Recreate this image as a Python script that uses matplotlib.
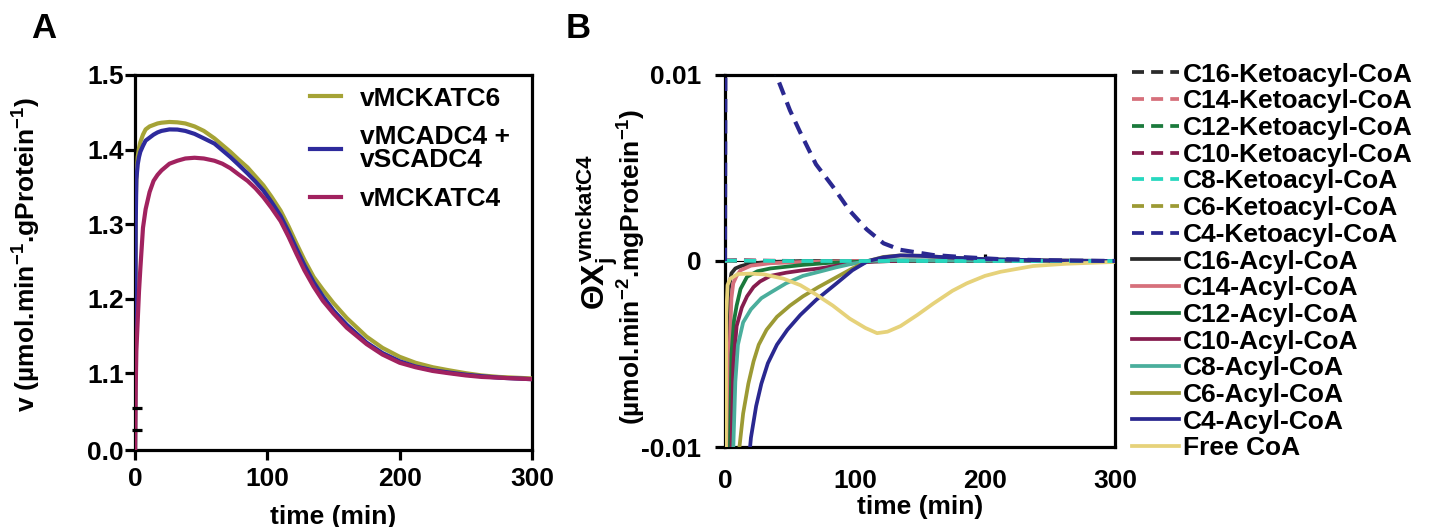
import numpy as np
import matplotlib
matplotlib.use('Agg')
import matplotlib.pyplot as plt
from matplotlib.lines import Line2D

plt.rcParams['font.family'] = ['Liberation Sans', 'DejaVu Sans']
plt.rcParams['font.weight'] = 'bold'
plt.rcParams['axes.labelweight'] = 'bold'
plt.rcParams['mathtext.fontset'] = 'custom'
plt.rcParams['mathtext.rm'] = 'Liberation Sans:bold'
plt.rcParams['mathtext.it'] = 'Liberation Sans:bold'
plt.rcParams['mathtext.bf'] = 'Liberation Sans:bold'
plt.rcParams['mathtext.sf'] = 'Liberation Sans:bold'

# ---------------- Panel A data ----------------
t_a = [0, 0.5, 1, 2, 3, 4, 6, 8, 11, 14, 17, 20, 26, 32, 38, 45, 52, 60, 66, 72, 78,
       85, 91, 97, 103, 110, 116, 122, 128, 135, 142, 150, 160, 175, 187, 200, 212,
       225, 237, 250, 262, 275, 287, 300]
v_mckatc6 = [0.0, 1.33, 1.36, 1.39, 1.402, 1.41, 1.42, 1.427, 1.431, 1.433, 1.435,
             1.436, 1.437, 1.4365, 1.435, 1.431, 1.425, 1.415, 1.406, 1.397, 1.387,
             1.376, 1.364, 1.352, 1.337, 1.318, 1.297, 1.274, 1.252, 1.229, 1.212,
             1.194, 1.174, 1.149, 1.134, 1.122, 1.114, 1.108, 1.104, 1.100, 1.097,
             1.095, 1.094, 1.093]
v_mcadc4_scadc4 = [0.0, 1.30, 1.36, 1.38, 1.39, 1.397, 1.405, 1.412, 1.416, 1.420,
                   1.423, 1.425, 1.427, 1.4268, 1.425, 1.421, 1.415, 1.408, 1.399,
                   1.390, 1.380, 1.368, 1.357, 1.345, 1.330, 1.311, 1.290, 1.267,
                   1.245, 1.222, 1.203, 1.184, 1.165, 1.141, 1.127, 1.116, 1.109,
                   1.104, 1.101, 1.098, 1.096, 1.094, 1.093, 1.092]
v_mckatc4 = [0.0, 1.08, 1.13, 1.17, 1.21, 1.24, 1.295, 1.32, 1.343, 1.358, 1.366,
             1.372, 1.381, 1.385, 1.388, 1.389, 1.388, 1.385, 1.381, 1.375, 1.367,
             1.358, 1.348, 1.336, 1.322, 1.304, 1.283, 1.260, 1.238, 1.216, 1.197,
             1.180, 1.161, 1.139, 1.125, 1.114, 1.108, 1.103, 1.100, 1.097, 1.095,
             1.094, 1.093, 1.092]
labels_a = ['vMCKATC6', 'vMCADC4 +\nvSCADC4', 'vMCKATC4']
colors_a = ['#a5a336', '#2e2a9c', '#a1225f']
yticks_a = [0.0, 1.1, 1.2, 1.3, 1.4, 1.5]
xticks = [0, 100, 200, 300]

# ---------------- Panel B data ----------------
t_c4keto = [0, 1, 10, 25, 40, 50, 58, 70, 83, 96, 109, 122, 135, 160, 185, 211, 240, 270, 300]
y_c4keto = [0.0, 0.03, 0.025, 0.016, 0.0099, 0.0081, 0.0069, 0.0052, 0.0040, 0.0027,
            0.0017, 0.00095, 0.0006, 0.00032, 0.0002, 0.0001, 0.00005, 0.00002, 0.0]
t_keto_small = [0, 2, 10, 20, 30, 45, 60, 100, 300]
y_c16keto = [0.0, 0.0, 0.0, 0.0, 0.0, 0.0, 0.0, 0.0, 0.0]
y_c14keto = [0.0, 0.0, 0.00003, 0.00002, 0.00001, 0.0, 0.0, 0.0, 0.0]
y_c12keto = [0.0, 0.0, 0.00002, 0.00001, 0.0, 0.0, 0.0, 0.0, 0.0]
y_c10keto = [0.0, 0.00004, 0.00004, 0.00003, 0.00002, 0.00001, 0.0, 0.0, 0.0]
y_c8keto = [0.0, 0.00002, 0.00002, 0.00001, 0.00001, 0.0, 0.0, 0.0, 0.0]
y_c6keto = [0.0, 0.00001, 0.00001, 0.00001, 0.0, 0.0, 0.0, 0.0, 0.0]

t_c16acyl = [0, 0.8, 1.3, 2, 3, 5, 8, 12, 20, 35, 60, 300]
y_c16acyl = [-0.05, -0.02, -0.0101, -0.004, -0.0015, -0.00066, -0.0004, -0.00028,
             -0.00013, -0.00005, 0.0, 0.0]
t_c14acyl = [0, 1.5, 2.6, 3.5, 5, 6.4, 9, 12, 20, 35, 60, 100, 300]
y_c14acyl = [-0.05, -0.02, -0.0101, -0.005, -0.002, -0.0012, -0.0008, -0.0005,
             -0.00025, -0.00012, -0.00005, 0.0, 0.0]
t_c12acyl = [0, 2.5, 3.8, 5, 7, 9, 12, 17, 25, 35, 60, 80, 100, 130, 300]
y_c12acyl = [-0.05, -0.02, -0.0101, -0.005, -0.0032, -0.0024, -0.0015, -0.00085,
             -0.00055, -0.0004, -0.00021, -0.0001, -0.00005, 0.0, 0.0]
t_c10acyl = [0, 3, 5, 6.5, 9, 13, 17, 22, 27, 35, 47, 60, 73, 86, 99, 115, 140, 300]
y_c10acyl = [-0.05, -0.02, -0.0101, -0.0055, -0.0035, -0.0025, -0.0019, -0.0014,
             -0.0011, -0.0008, -0.00063, -0.0005, -0.0004, -0.00025, -0.00012,
             -0.00003, 0.00002, 0.0]
t_c8acyl = [0, 4, 6.4, 8, 10, 14, 20, 28, 35, 47, 60, 73, 85, 99, 111, 130, 160, 300]
y_c8acyl = [-0.05, -0.02, -0.0101, -0.0065, -0.0045, -0.0033, -0.0026, -0.0020,
            -0.0017, -0.0012, -0.0008, -0.00057, -0.00035, -0.00013, 0.0, 0.00005,
            0.00003, 0.0]
t_c6acyl = [0, 8, 11, 14, 18, 22, 26, 32, 40, 50, 60, 72, 85, 98, 110, 122, 135,
            150, 175, 200, 250, 300]
y_c6acyl = [-0.05, -0.02, -0.0101, -0.0082, -0.0066, -0.0054, -0.0045, -0.0037,
            -0.0030, -0.0024, -0.0019, -0.0014, -0.0009, -0.0004, 0.0, 0.00022,
            0.0003, 0.00028, 0.00018, 0.0001, 0.00003, 0.0]
t_c4acyl = [0, 10, 18, 20, 24, 28, 33, 40, 48, 58, 70, 85, 98, 110, 122, 135, 150,
            175, 200, 250, 300]
y_c4acyl = [-0.05, -0.03, -0.011, -0.0095, -0.0078, -0.0066, -0.0055, -0.0045,
            -0.0037, -0.0029, -0.0021, -0.00125, -0.0005, 0.0, 0.0002, 0.0003,
            0.00028, 0.00018, 0.0001, 0.00003, 0.0]
t_freecoa = [0, 1, 2, 4, 10, 20, 30, 45, 58, 70, 83, 96, 108, 117, 125, 135, 148,
             160, 175, 186, 200, 212, 237, 262, 300]
y_freecoa = [-0.03, -0.003, -0.0013, -0.00095, -0.0007, -0.00068, -0.00072, -0.00095,
             -0.0013, -0.0018, -0.0024, -0.0031, -0.0036, -0.00388, -0.0038, -0.0035,
             -0.0029, -0.0023, -0.0016, -0.0012, -0.0008, -0.00058, -0.00027,
             -0.00015, -0.00005]

names_b = ['C16-Ketoacyl-CoA', 'C14-Ketoacyl-CoA', 'C12-Ketoacyl-CoA',
           'C10-Ketoacyl-CoA', 'C8-Ketoacyl-CoA', 'C6-Ketoacyl-CoA', 'C4-Ketoacyl-CoA',
           'C16-Acyl-CoA', 'C14-Acyl-CoA', 'C12-Acyl-CoA', 'C10-Acyl-CoA',
           'C8-Acyl-CoA', 'C6-Acyl-CoA', 'C4-Acyl-CoA', 'Free CoA']
colors_b = ['#2b2b2b', '#d6707b', '#1b7a3c', '#861c4e', '#27d8bf', '#9c9a34', '#2a2890',
            '#2b2b2b', '#d6707b', '#1b7a3c', '#861c4e', '#4aae9c', '#9c9a34', '#2a2890',
            '#e6d27a']
series_b = [(t_keto_small, y_c16keto), (t_keto_small, y_c14keto), (t_keto_small, y_c12keto),
            (t_keto_small, y_c10keto), (t_keto_small, y_c8keto), (t_keto_small, y_c6keto),
            (t_c4keto, y_c4keto),
            (t_c16acyl, y_c16acyl), (t_c14acyl, y_c14acyl), (t_c12acyl, y_c12acyl),
            (t_c10acyl, y_c10acyl), (t_c8acyl, y_c8acyl), (t_c6acyl, y_c6acyl),
            (t_c4acyl, y_c4acyl), (t_freecoa, y_freecoa)]
dashed_b = [True] * 7 + [False] * 8
zorders_b = [3.10, 3.12, 3.11, 3.13, 3.4, 3.09, 3.5,
             3.2, 3.21, 3.22, 3.23, 3.24, 3.25, 3.26, 3.3]
yticks_b = [-0.01, 0, 0.01]
yticklabels_b = ['-0.01', '0', '0.01']

# ---------------- Figure ----------------
fig = plt.figure(figsize=(14.29, 5.27), dpi=100)
SP = 2.3
FS = 19

# Panel A with compressed lower region (axis break)
lo = 0.997
brk = 1.05


def fwd(v):
    v = np.asarray(v, dtype=float)
    return np.where(v >= brk, v, lo + v * (brk - lo) / brk)


def inv(u):
    u = np.asarray(u, dtype=float)
    return np.where(u >= brk, u, (u - lo) * brk / (brk - lo))


axA = fig.add_axes([0.0945, 0.1461, 0.2778, 0.7116])
axA.set_yscale('function', functions=(fwd, inv))
for y, c, lab in zip([v_mckatc6, v_mcadc4_scadc4, v_mckatc4], colors_a, labels_a):
    axA.plot(t_a, y, color=c, lw=3.0, label=lab, solid_joinstyle='round', zorder=3)
axA.set_xlim(0, 300)
axA.set_ylim(0.0, 1.5)
axA.set_yticks(yticks_a)
axA.set_yticklabels(['%.1f' % v for v in yticks_a])
axA.set_xticks(xticks)
axA.minorticks_off()
for s in axA.spines.values():
    s.set_linewidth(SP)
axA.tick_params(axis='both', direction='out', length=7, width=SP, labelsize=FS)
axA.tick_params(axis='y', pad=1)
axA.tick_params(axis='x', pad=5)
axA.set_xlabel('time (min)', fontsize=FS, labelpad=10)
axA.set_ylabel(r'v (µmol.min$^{-1}$.gProtein$^{-1}$)', fontsize=FS)
axA.yaxis.set_label_coords(-0.232, 0.52)
# break marks
for yb in [0.053, 0.112]:
    axA.plot([-0.008, 0.018], [yb, yb], transform=axA.transAxes, color='black',
             lw=SP, clip_on=False, solid_capstyle='butt', zorder=5)
legA = axA.legend(loc='upper left', bbox_to_anchor=(0.42, 0.99), frameon=False,
                  fontsize=FS, handlelength=1.2, handletextpad=0.7, borderpad=0.3,
                  borderaxespad=0.0, labelspacing=0.55)
for t in legA.get_texts():
    t.set_linespacing(0.95)
for h in legA.get_lines():
    h.set_linewidth(3.0)

# Panel B
axB = fig.add_axes([0.5073, 0.1518, 0.2730, 0.7059])
for (tt, yy), c, nm, d, z in zip(series_b, colors_b, names_b, dashed_b, zorders_b):
    ls = (0, (3.2, 1.9)) if d else '-'
    lw = 3.0 if nm == 'C4-Ketoacyl-CoA' else 2.7
    axB.plot(tt, yy, color=c, lw=lw, ls=ls, label=nm, zorder=z)
axB.set_xlim(0, 300)
axB.set_ylim(-0.01, 0.01)
axB.set_xticks(xticks)
axB.set_yticks(yticks_b)
axB.set_yticklabels(yticklabels_b)
for s in axB.spines.values():
    s.set_linewidth(SP)
axB.tick_params(axis='y', direction='out', length=7, width=SP, labelsize=FS, pad=10)
axB.tick_params(axis='x', length=0, labelsize=FS, pad=16)
axB.set_xlabel('time (min)', fontsize=FS, labelpad=1)
sec = axB.secondary_xaxis(0.5)
sec.set_xticks([200])
sec.set_xticklabels([''])
sec.spines['bottom'].set_visible(False)
sec.tick_params(direction='out', length=5, width=SP)

# two-line y label of panel B
fig.text(632 / 1429, 1 - 267 / 527, r'(µmol.min$^{-2}$.mgProtein$^{-1}$)', rotation=90,
         fontsize=FS, fontweight='bold', ha='center', va='center')
fig.text(597 / 1429, 1 - 232 / 527, r'$\Theta X_{j}^{vmckatC4}$', rotation=90,
         fontsize=23, fontweight='bold', ha='center', va='center')

handles = []
for c, nm, d in zip(colors_b, names_b, dashed_b):
    ls = (0, (3.2, 1.9)) if d else '-'
    handles.append(Line2D([], [], color=c, lw=2.7, ls=ls))
legB = fig.legend(handles, names_b, loc='upper left', bbox_to_anchor=(0.7925, 0.881),
                  frameon=False, fontsize=19, handlelength=1.75, handletextpad=0.15,
                  labelspacing=0.102, borderpad=0.0, borderaxespad=0.0)

fig.text(0.022, 0.945, 'A', fontsize=25, fontweight='bold', ha='left', va='center')
fig.text(0.396, 0.945, 'B', fontsize=25, fontweight='bold', ha='left', va='center')

fig.savefig('out.png', dpi=100)
